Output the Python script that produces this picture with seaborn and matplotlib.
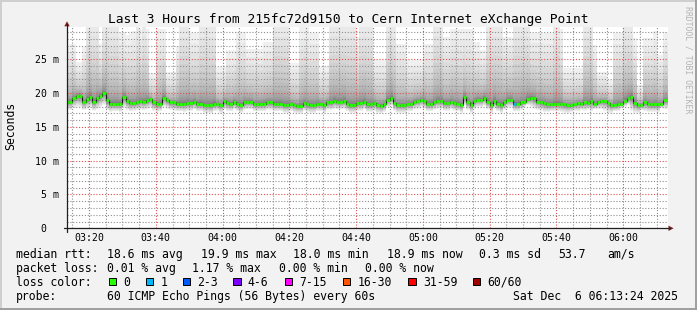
import numpy as np
import pandas as pd
import matplotlib
matplotlib.use("Agg")
import matplotlib.pyplot as plt
import seaborn as sns
from matplotlib.patches import Rectangle, Polygon
from matplotlib.lines import Line2D
from matplotlib.ticker import FixedLocator

# ---------------- data (ms, one value per minute, 03:13:24 -> 06:13:24) -------------
median_ms = [
    18.7, 18.7, 19.3, 19.6, 19.6, 18.7, 19.1, 19.4, 18.7, 19.2, 19.6, 20.0, 18.9, 18.4, 18.4,
    18.4, 18.4, 19.4, 18.8, 18.5, 18.5, 18.6, 18.8, 18.7, 18.9, 19.1, 18.6, 18.4, 18.4, 19.3,
    18.9, 18.6, 18.6, 18.4, 18.4, 18.4, 18.5, 18.5, 18.7, 18.4, 18.4, 18.2, 18.2, 18.2, 18.4,
    18.4, 18.2, 18.8, 18.5, 18.4, 18.7, 18.4, 18.2, 18.6, 18.7, 18.7, 18.4, 18.4, 18.4, 18.4,
    18.6, 18.6, 18.4, 18.4, 18.4, 18.2, 18.2, 18.4, 18.2, 18.1, 18.1, 18.5, 18.3, 18.2, 18.2,
    18.4, 18.4, 18.2, 18.6, 18.6, 18.8, 18.7, 18.7, 18.8, 18.4, 18.2, 18.2, 18.5, 18.5, 18.7,
    18.3, 18.3, 18.5, 18.2, 18.1, 18.3, 19.0, 19.3, 18.5, 18.2, 18.2, 18.2, 18.4, 18.4, 18.7,
    18.8, 19.0, 18.8, 18.4, 18.4, 18.6, 18.8, 18.8, 18.5, 18.5, 18.7, 18.5, 18.4, 18.2, 19.4,
    18.6, 18.2, 18.8, 19.0, 19.0, 19.3, 18.7, 18.2, 18.8, 18.4, 18.2, 18.6, 19.0, 19.0, 18.4,
    18.4, 18.6, 18.6, 19.1, 19.3, 19.2, 18.7, 18.6, 18.5, 18.3, 18.3, 18.4, 18.4, 18.4, 18.3,
    18.2, 18.2, 18.3, 18.5, 18.4, 18.6, 18.5, 18.8, 18.4, 18.7, 18.8, 18.8, 18.5, 18.2, 18.2,
    18.4, 18.4, 18.8, 19.2, 19.4, 18.5, 18.2, 18.2, 18.6, 18.4, 18.3, 18.3, 18.3, 18.3, 18.9,
]
max_ms = [
    26.6, 27.3, 27.3, 24.6, 24.6, 26.8, 32.0, 32.0, 32.0, 32.0,
    27.3, 32.0, 32.0, 32.0, 32.0, 32.0, 28.8, 29.0, 28.5, 28.8,
    29.2, 32.0, 29.5, 32.0, 29.5, 22.9, 22.9, 29.4, 29.4, 29.4,
    23.1, 23.1, 23.1, 27.0, 32.0, 32.0, 32.0, 28.8, 28.8, 28.8,
    32.0, 32.0, 32.0, 32.0, 32.0, 23.9, 23.9, 23.9, 26.3, 26.3,
    26.3, 29.0, 29.0, 29.0, 26.5, 26.5, 26.5, 26.5, 26.5, 27.5,
    27.5, 27.5, 32.0, 32.0, 32.0, 32.0, 32.0, 24.4, 24.4, 24.4,
    29.7, 29.7, 29.7, 28.8, 28.8, 28.8, 23.9, 23.9, 23.9, 32.0,
    32.0, 32.0, 32.0, 32.0, 32.0, 32.0, 32.0, 28.3, 32.0, 32.0,
    32.0, 32.0, 24.9, 24.9, 24.9, 24.9, 32.0, 32.0, 32.0, 27.3,
    27.3, 27.3, 24.9, 24.9, 24.9, 24.9, 24.9, 27.3, 27.3, 27.3,
    32.0, 32.0, 32.0, 28.3, 28.3, 29.5, 29.5, 29.5, 29.5, 29.5,
    29.5, 29.5, 27.5, 27.5, 26.3, 26.3, 32.0, 32.0, 32.0, 32.0,
    32.0, 28.3, 28.3, 28.3, 32.0, 32.0, 32.0, 32.0, 32.0, 28.8,
    28.8, 28.8, 28.8, 28.8, 28.8, 28.8, 32.0, 32.0, 29.4, 23.7,
    23.7, 23.7, 23.7, 23.7, 23.7, 32.0, 32.0, 32.0, 27.1, 23.1,
    23.1, 23.1, 21.9, 21.9, 28.8, 28.8, 28.8, 32.0, 32.0, 32.0,
    28.1, 21.2, 21.2, 28.1, 28.1, 28.1, 29.2, 25.6, 25.6, 29.0,
]
min_ms = [
    17.6, 17.5, 17.8, 18.0, 17.9, 17.5, 17.7, 17.9, 17.4, 17.6,
    17.9, 18.2, 17.5, 17.2, 17.3, 17.3, 17.2, 17.8, 17.5, 17.3,
    17.4, 17.5, 17.6, 17.5, 17.6, 17.8, 17.4, 17.2, 17.3, 17.9,
    17.7, 17.5, 17.4, 17.3, 17.3, 17.2, 17.4, 17.4, 17.6, 17.3,
    17.3, 17.1, 17.1, 17.0, 17.3, 17.4, 17.1, 17.6, 17.4, 17.3,
    17.6, 17.3, 17.1, 17.5, 17.6, 17.6, 17.3, 17.3, 17.3, 17.3,
    17.5, 17.5, 17.3, 17.3, 17.3, 17.1, 17.1, 17.3, 17.1, 17.0,
    17.0, 17.4, 17.2, 17.1, 17.1, 17.3, 17.3, 17.1, 17.5, 17.5,
    17.7, 17.6, 17.6, 17.7, 17.3, 17.1, 17.1, 17.4, 17.4, 17.6,
    17.2, 17.2, 17.4, 17.1, 17.0, 17.2, 17.9, 18.1, 17.4, 17.1,
    17.1, 17.1, 17.3, 17.3, 17.6, 17.7, 17.9, 17.7, 17.3, 17.3,
    17.5, 17.7, 17.7, 17.4, 17.4, 17.6, 17.4, 17.3, 17.1, 18.2,
    17.5, 17.1, 17.7, 17.9, 17.9, 18.1, 17.6, 17.1, 17.7, 17.3,
    17.1, 17.5, 17.9, 17.9, 17.3, 17.3, 17.5, 18.0, 18.2, 18.0,
    17.6, 17.5, 17.4, 17.2, 17.2, 17.3, 17.3, 17.3, 17.2, 17.1,
    17.1, 17.2, 17.4, 17.3, 17.5, 17.4, 17.6, 17.3, 17.6, 17.7,
    17.7, 17.4, 17.1, 17.1, 17.3, 17.3, 17.7, 18.0, 18.2, 17.4,
    17.1, 17.1, 17.5, 17.3, 17.2, 17.2, 17.2, 17.2, 17.8, 17.7,
]
lost_pings = [
    0, 0, 0, 0, 0, 0, 0, 0, 0, 0, 0, 0, 0, 0, 0, 0, 0, 0, 0, 0, 0, 0, 0, 0, 0, 0, 0, 0, 0, 0,
    0, 0, 0, 0, 0, 0, 0, 0, 0, 0, 0, 0, 0, 0, 0, 0, 0, 0, 0, 0, 0, 0, 0, 0, 0, 0, 0, 0, 0, 0,
    0, 0, 0, 0, 0, 0, 0, 0, 0, 0, 0, 0, 0, 0, 0, 0, 0, 0, 0, 0, 0, 0, 0, 0, 0, 0, 0, 0, 0, 0,
    0, 0, 0, 0, 0, 0, 0, 0, 0, 0, 0, 0, 0, 0, 0, 0, 0, 0, 0, 0, 0, 0, 0, 0, 0, 0, 0, 0, 0, 0,
    0, 0, 0, 0, 0, 0, 0, 0, 0, 0, 0, 0, 0, 0, 1, 0, 0, 0, 0, 0, 0, 0, 0, 0, 0, 0, 0, 0, 0, 0,
    0, 0, 0, 0, 0, 0, 0, 0, 0, 0, 0, 0, 0, 0, 0, 0, 0, 0, 0, 0, 0, 0, 0, 0, 0, 0, 0, 0, 0, 0,
]

ytick_values = [0, 5, 10, 15, 20, 25]
ytick_labels = ["0  ", "5 m", "10 m", "15 m", "20 m", "25 m"]
xtick_labels = ["03:20", "03:40", "04:00", "04:20", "04:40", "05:00", "05:20", "05:40", "06:00"]
start_offset_min = 6.6          # 03:13:24 -> 03:20:00
window_min = 180

loss_labels = ["0", "1", "2-3", "4-6", "7-15", "16-30", "31-59", "60/60"]
loss_upper = [0, 1, 3, 6, 15, 30, 59, 60]
loss_colors = ["#26ff00", "#00b8ff", "#0059ff", "#7e00ff", "#ff00ff", "#ff5500", "#ff0000", "#a10000"]

title = "Last 3 Hours from 215fc72d9150 to Cern Internet eXchange Point"
stats_rows = [
    [("median rtt:", 16), ("18.6 ms avg", 107), ("19.9 ms max", 200.7), ("18.0 ms min", 293),
     ("18.9 ms now", 386.7), ("0.3 ms sd", 479.3), ("53.7", 558.3), ("am/s", 607.7)],
    [("packet loss:", 16), ("0.01 % avg", 107), ("1.17 % max", 191.7), ("0.00 % min", 279.3),
     ("0.00 % now", 365)],
]
probe_text = "60 ICMP Echo Pings (56 Bytes) every 60s"
stamp_text = "Sat Dec  6 06:13:24 2025"

# ---------------- style -------------
W, H = 697, 310
sns.set_theme(style="white")
MONO = ["DejaVu Sans Mono"]
plt.rcParams["font.family"] = MONO

fig = plt.figure(figsize=(W / 100, H / 100), dpi=100)
fig.patch.set_facecolor("#f2f2f2")

def fx(px):
    return px / W

def fy(py):
    return 1 - py / H

x0, x1, ytop, ybot = 67, 668, 26.7, 228.3
ax = fig.add_axes([fx(x0), fy(ybot), fx(x1) - fx(x0), (ybot - ytop) / H])
ax.set_facecolor("white")
ymax = 29.8
ax.set_xlim(0, window_min)
ax.set_ylim(0, ymax)

med = np.array(median_ms)
hi = np.array(max_ms)
lo = np.array(min_ms)
n = len(med)
edges = np.append(np.arange(n) - 0.4, window_min)
edges[0] = 0

# smoke: 30 nested bands, outermost lightest
half = 30
for i in range(1, half + 1):
    t = (half + 1 - i) / half
    up = med + (hi - med) * t ** 4.6
    dn = med - (med - lo) * t ** 2.2
    g = int(190 / half * (half + 1 - i)) + 50
    col = "#%02x%02x%02x" % (g, g, g)
    ax.fill_between(edges, np.append(dn, dn[-1]), np.append(up, up[-1]), step="post",
                    color=col, lw=0, zorder=1)

# grid (drawn on top of smoke, dotted)
maj_x = [start_offset_min + 20 * k for k in range(len(xtick_labels))]
min_x = [start_offset_min - 5 + 5 * k for k in range(37) if (k - 1) % 4 != 0]
min_x = [v for v in min_x if 0 < v < window_min]
ax.xaxis.set_major_locator(FixedLocator(maj_x))
ax.xaxis.set_minor_locator(FixedLocator(min_x))
ax.yaxis.set_major_locator(FixedLocator(ytick_values))
ax.yaxis.set_minor_locator(FixedLocator([v for v in range(1, 30) if v % 5 != 0]))
ax.set_axisbelow(False)
ax.grid(which="minor", color=(0.56, 0.56, 0.56, 0.38), lw=0.8, ls=(0, (1, 1.6)))
ax.grid(which="major", color=(0.87, 0.31, 0.31, 0.55), lw=0.8, ls=(0, (1, 1.6)))

# median line
df = pd.DataFrame({"t": edges, "ms": np.append(med, med[-1])})
sns.lineplot(data=df, x="t", y="ms", drawstyle="steps-post", color="#1a1a1a", lw=0.8,
             ax=ax, zorder=4, sort=False)
seg_cols = []
for lp in lost_pings:
    for lab_i, ub in enumerate(loss_upper):
        if lp <= ub:
            seg_cols.append(loss_colors[lab_i])
            break
ax.hlines(med, edges[:-1], edges[1:], colors=seg_cols, lw=2.0, zorder=5, capstyle="butt")

for s in ax.spines.values():
    s.set_visible(False)
ax.set_xlabel("")
ax.set_ylabel("")
ax.set_xticklabels(xtick_labels)
ax.set_yticklabels(ytick_labels)
ax.tick_params(axis="x", which="major", length=2.2, width=0.72, color=(0.87, 0.31, 0.31, 0.7),
               pad=1.4, labelsize=7.1, labelcolor="black")
ax.tick_params(axis="x", which="minor", length=2.2, width=0.72, color=(0.56, 0.56, 0.56, 0.7))
ax.tick_params(axis="y", which="major", length=2.2, width=0.72, color=(0.3, 0.3, 0.3),
               pad=3.6, labelsize=7.1, labelcolor="black")
ax.tick_params(axis="y", which="minor", length=0)
for lab in ax.get_xticklabels() + ax.get_yticklabels():
    lab.set_fontfamily(MONO)

# axes lines and arrows
axis_col = "#1f1f1f"
arrow_col = "#801f1f"
fig.add_artist(Line2D([fx(x0), fx(x0)], [fy(231.5), fy(24)], color=axis_col, lw=0.9))
fig.add_artist(Line2D([fx(63.5), fx(670)], [fy(ybot), fy(ybot)], color=axis_col, lw=0.9))
fig.add_artist(Polygon([[fx(64.3), fy(26.3)], [fx(69.7), fy(26.3)], [fx(67), fy(21.3)]],
                       closed=True, color=arrow_col, lw=0))
fig.add_artist(Polygon([[fx(668.5), fy(225.6)], [fx(668.5), fy(231.0)], [fx(673.6), fy(ybot)]],
                       closed=True, color=arrow_col, lw=0))

# frame
fig.add_artist(Line2D([0, 1], [fy(0.8), fy(0.8)], color="#cfcfcf", lw=1.4))
fig.add_artist(Line2D([fx(0.8), fx(0.8)], [0, 1], color="#cfcfcf", lw=1.4))
fig.add_artist(Line2D([0, 1], [fy(309.2), fy(309.2)], color="#9e9e9e", lw=1.4))
fig.add_artist(Line2D([fx(696.2), fx(696.2)], [0, 1], color="#9e9e9e", lw=1.4))

# texts
fig.text(fx(348.5), fy(19.3), title, ha="center", va="center", fontsize=9.3, color="black")
fig.text(fx(10.5), fy(126), "Seconds", rotation=90, ha="center", va="center", fontsize=8.3,
         color="black")
fig.text(fx(688), fy(60), "RRDTOOL / TOBI OETIKER", rotation=-90, ha="center", va="center",
         fontsize=5.9, color="#b4b4b4")

LFS = 8.3
row_y = [254.3, 268.3, 282.3, 296.3]
for r, row in enumerate(stats_rows):
    for txt, px in row:
        fig.text(fx(px), fy(row_y[r]), txt, ha="left", va="center", fontsize=LFS, color="black")

fig.text(fx(16), fy(row_y[2]), "loss color:", ha="left", va="center", fontsize=LFS, color="black")
sq_x = [108.7, 145.7, 182.7, 233.3, 285.0, 342.8, 408.3, 472.7]
for c, lab, sx in zip(loss_colors, loss_labels, sq_x):
    fig.add_artist(Rectangle((fx(sx), fy(285.3)), 7.3 / W, 7.6 / H, facecolor=c,
                             edgecolor="black", lw=0.7))
    fig.text(fx(sx + 14.6), fy(row_y[2]), lab, ha="left", va="center", fontsize=LFS, color="black")

fig.text(fx(16), fy(row_y[3]), "probe:", ha="left", va="center", fontsize=LFS, color="black")
fig.text(fx(107), fy(row_y[3]), probe_text, ha="left", va="center", fontsize=LFS, color="black")
fig.text(fx(513.3), fy(row_y[3]), stamp_text, ha="left", va="center", fontsize=LFS, color="black")

fig.savefig("out.png", dpi=100, facecolor=fig.get_facecolor())
